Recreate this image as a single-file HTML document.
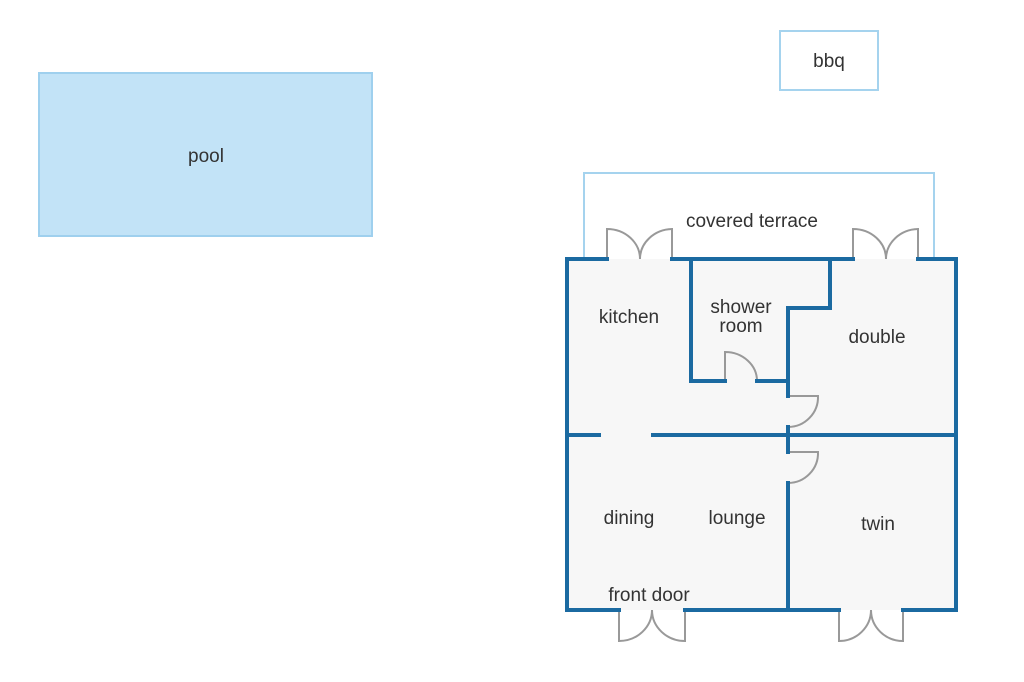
<!DOCTYPE html>
<html><head><meta charset="utf-8"><style>
html,body{margin:0;padding:0;background:#fff;width:1024px;height:682px;overflow:hidden}
svg text{font-family:"Liberation Sans","DejaVu Sans",sans-serif;font-size:19px;fill:#333;text-anchor:middle}
</style></head><body>
<svg width="1024" height="682" viewBox="0 0 1024 682" xmlns="http://www.w3.org/2000/svg">
<rect x="39" y="73" width="333" height="163" fill="#c2e3f7" stroke="#9fd0ee" stroke-width="2"/>
<text x="206" y="162">pool</text>
<rect x="780" y="31" width="98" height="59" fill="#fff" stroke="#a5d3ee" stroke-width="2"/>
<text x="829" y="67">bbq</text>
<polyline points="584,259 584,173 934,173 934,259" fill="none" stroke="#a5d3ee" stroke-width="2"/>
<text x="752" y="227">covered terrace</text>
<rect x="567" y="259" width="389" height="351" fill="#f7f7f7"/>
<g fill="none" stroke="#999" stroke-width="2">
<path d="M607,259 V229 A33,30 0 0 1 640,259 M672,259 V229 A33,30 0 0 0 640,259"/>
<path d="M853,259 V229 A33,30 0 0 1 886,259 M918,259 V229 A33,30 0 0 0 886,259"/>
<path d="M725,381 V352 A32,29 0 0 1 757,381"/>
<path d="M788,396 H818 A30,30 0 0 1 788,427"/>
<path d="M788,452 H818 A30,30 0 0 1 788,483"/>
<path d="M619,610 V641 A33,31 0 0 0 652,610 M685,610 V641 A33,31 0 0 1 652,610"/>
<path d="M839,610 V641 A32,31 0 0 0 871,610 M903,610 V641 A32,31 0 0 1 871,610"/>
</g>
<g fill="none" stroke="#1b6aa1" stroke-width="4" stroke-linecap="square">
<path d="M607,259 H567 V610 H619"/>
<path d="M672,259 H853"/>
<path d="M918,259 H956 V610 H903"/>
<path d="M685,610 H839"/>
<path d="M691,259 V381 H725"/>
<path d="M757,381 H788 V308 H830 V259"/>
<path d="M788,381 V396"/>
<path d="M788,427 V452"/>
<path d="M788,483 V610"/>
<path d="M567,435 H599"/>
<path d="M653,435 H956"/>
</g>
<text x="629" y="323">kitchen</text>
<text x="741" y="313">shower</text>
<text x="741" y="332">room</text>
<text x="877" y="343">double</text>
<text x="629" y="524">dining</text>
<text x="737" y="524">lounge</text>
<text x="878" y="530">twin</text>
<text x="649" y="601">front door</text>
</svg>
</body></html>
